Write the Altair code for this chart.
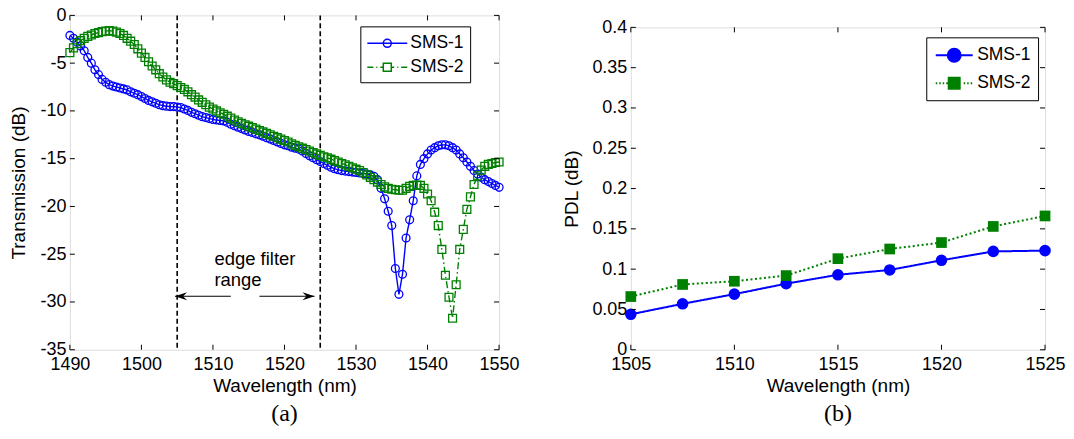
import altair as alt
import pandas as pd

# ---------------- data ----------------
series_names = ["SMS-1", "SMS-2"]
series_colors = ["#0000ff", "#008000"]

# panel (a): transmission spectra, sampled every 0.5 nm from 1490 to 1550 nm
wavelength_a = [1490 + 0.5 * i for i in range(121)]
sms1_trans = [
    -2.1, -2.4, -2.8, -3.2, -3.7, -4.4, -5.0, -5.7, -6.2, -6.7,
    -7.0, -7.25, -7.4, -7.5, -7.6, -7.7, -7.8, -8.0, -8.15, -8.3,
    -8.5, -8.7, -8.9, -9.05, -9.2, -9.35, -9.45, -9.5, -9.55, -9.55,
    -9.6, -9.65, -9.8, -9.95, -10.15, -10.3, -10.45, -10.6, -10.7, -10.8,
    -10.9, -10.95, -11.0, -11.05, -11.2, -11.4, -11.55, -11.7, -11.85, -12.0,
    -12.15, -12.25, -12.4, -12.5, -12.65, -12.8, -12.95, -13.1, -13.25, -13.4,
    -13.55, -13.65, -13.8, -13.9, -14.0, -14.2, -14.45, -14.7, -14.9, -15.1,
    -15.3, -15.5, -15.7, -15.9, -16.05, -16.15, -16.25, -16.3, -16.35, -16.4,
    -16.45, -16.5, -16.55, -16.6, -16.7, -16.85, -17.2, -18.1, -19.2, -20.5,
    -22.0, -26.5, -29.2, -27.1, -23.3, -21.4, -19.4, -16.8, -15.6, -15.0,
    -14.5, -14.1, -13.85, -13.65, -13.55, -13.55, -13.65, -13.85, -14.1, -14.5,
    -14.9, -15.35, -15.8, -16.25, -16.6, -16.95, -17.2, -17.4, -17.6, -17.8,
    -18.0,
]
sms2_trans = [
    -3.9, -3.4, -2.95, -2.65, -2.4, -2.2, -2.05, -1.9, -1.8, -1.7,
    -1.65, -1.6, -1.65, -1.75, -1.9, -2.1, -2.4, -2.7, -3.05, -3.5,
    -3.95, -4.4, -4.85, -5.3, -5.7, -6.1, -6.45, -6.75, -7.0, -7.15,
    -7.35, -7.55, -7.75, -8.0, -8.3, -8.55, -8.85, -9.1, -9.35, -9.6,
    -9.8, -10.0, -10.2, -10.35, -10.55, -10.75, -10.95, -11.15, -11.3, -11.45,
    -11.6, -11.75, -11.9, -12.05, -12.2, -12.35, -12.5, -12.65, -12.8, -12.95,
    -13.1, -13.25, -13.45, -13.6, -13.75, -13.9, -14.05, -14.2, -14.35, -14.5,
    -14.65, -14.8, -14.9, -15.05, -15.2, -15.35, -15.5, -15.65, -15.8, -15.95,
    -16.1, -16.25, -16.45, -16.7, -16.95, -17.2, -17.45, -17.7, -17.95, -18.1,
    -18.2, -18.25, -18.3, -18.3, -18.1, -17.9, -17.8, -17.75, -17.8, -18.1,
    -18.7, -19.4, -20.6, -22.0, -24.5, -27.2, -29.5, -31.7, -28.2, -24.5,
    -22.4, -20.3, -19.0, -17.7, -16.8, -16.2, -15.8, -15.6, -15.5, -15.4,
    -15.35,
]

# panel (b): PDL
wavelength_b = [1505, 1507.5, 1510, 1512.5, 1515, 1517.5, 1520, 1522.5, 1525]
sms1_pdl = [0.044, 0.057, 0.069, 0.082, 0.093, 0.099, 0.111, 0.122, 0.123]
sms2_pdl = [0.066, 0.081, 0.085, 0.092, 0.113, 0.125, 0.133, 0.153, 0.166]

# ticks
xticks_a = [1490, 1500, 1510, 1520, 1530, 1540, 1550]
yticks_a = [0, -5, -10, -15, -20, -25, -30, -35]
xticks_b = [1505, 1510, 1515, 1520, 1525]
yticks_b = [0, 0.05, 0.1, 0.15, 0.2, 0.25, 0.3, 0.35, 0.4]

# annotation of panel (a)
edge_lines = [1505, 1525]
annot_text = ["edge filter", "range"]
annot_y = [-25.5, -27.7]
annot_x = [1510.2, 1510.2]
arrow_left = [1512.5, 1504.7]
arrow_right = [1516.5, 1524.2]
arrow_y = -29.4

captions = ["(a)", "(b)"]
xtitle = "Wavelength (nm)"
ytitle_a = "Transmission (dB)"
ytitle_b = "PDL (dB)"

# ---------------- style ----------------
FONT = "Liberation Sans"
SERIF = "Liberation Serif"
W_A, H_A = 430, 335
W_B, H_B = 415, 323
TICK_FS = 18
TITLE_FS = 19
LEG_FS = 17.5

df_a = pd.DataFrame({
    "wl": wavelength_a * 2,
    "val": sms1_trans + sms2_trans,
    "series": [series_names[0]] * len(wavelength_a) + [series_names[1]] * len(wavelength_a),
})
df_b = pd.DataFrame({
    "wl": wavelength_b * 2,
    "val": sms1_pdl + sms2_pdl,
    "series": [series_names[0]] * len(wavelength_b) + [series_names[1]] * len(wavelength_b),
})


def make_axis(values, title, title_pad, label_pad):
    return alt.Axis(values=values, title=title, labelExpr="'' + datum.value",
                    labelFont=FONT, labelFontSize=TICK_FS, labelColor="black",
                    titleFont=FONT, titleFontSize=TITLE_FS, titleFontWeight="normal",
                    titleColor="black", titlePadding=title_pad, labelPadding=label_pad,
                    ticks=False, domain=False, grid=False, labelFlush=False,
                    labelOverlap=False)


sx_a = alt.Scale(domain=[1490, 1550], nice=False, zero=False)
sy_a = alt.Scale(domain=[-35, 0], nice=False, zero=False)
sx_b = alt.Scale(domain=[1505, 1525], nice=False, zero=False)
sy_b = alt.Scale(domain=[0, 0.4], nice=False, zero=False)
ax_xa = make_axis(xticks_a, xtitle, 3, 6)
ax_ya = make_axis(yticks_a, ytitle_a, 11, 4)
ax_xb = make_axis(xticks_b, xtitle, 3, 6)
ax_yb = make_axis(yticks_b, ytitle_b, 10, 4)


def X(field, sc, ax):
    return alt.X(field, type="quantitative", scale=sc, axis=ax)


def Y(field, sc, ax):
    return alt.Y(field, type="quantitative", scale=sc, axis=ax)


def tick_layers(xt, yt, sx, sy, axx, axy, w, h):
    tx = alt.Chart(pd.DataFrame({"v": xt}))
    ty = alt.Chart(pd.DataFrame({"v": yt}))
    r = dict(color="black", strokeWidth=1)
    return [
        tx.mark_rule(**r).encode(x=X("v", sx, axx), y=alt.value(h), y2=alt.value(h - 5)),
        tx.mark_rule(**r).encode(x=X("v", sx, axx), y=alt.value(0), y2=alt.value(5)),
        ty.mark_rule(**r).encode(y=Y("v", sy, axy), x=alt.value(0), x2=alt.value(5)),
        ty.mark_rule(**r).encode(y=Y("v", sy, axy), x=alt.value(w - 5), x2=alt.value(w)),
    ]


def seg_path(segs):
    return "".join(f"M{a:.3f},0L{b:.3f},0" for a, b in segs)


def circle_path(cx, r):
    return f"M{cx + r},0A{r},{r},0,1,1,{cx - r},0A{r},{r},0,1,1,{cx + r},0Z"


def square_path(cx, s):
    return f"M{cx - s},{-s}L{cx + s},{-s}L{cx + s},{s}L{cx - s},{s}Z"


# legend symbols (line + marker); symbol size 400 -> 1 unit = 10 px,
# the line runs from -1 to 3 units (40 px) with the marker at its middle
leg_paths_a = [
    seg_path([(-1, 3)]) + circle_path(1, 0.4),
    seg_path([(-1, -0.4), (-0.1, 0.0), (0.3, 0.6), (1.4, 1.7), (2.0, 2.1), (2.4, 3.0)]) + square_path(1, 0.4),
]
dots = []
p = -0.85
while p < 2.8:
    a, b = p, p + 0.15
    if not (0.35 < a < 1.65 or 0.35 < b < 1.65):
        dots.append((a, b))
    p += 0.35
leg_paths_b = [
    seg_path([(-0.85, 2.85)]) + circle_path(1, 0.65),
    seg_path(dots) + square_path(1, 0.55),
]


def legend(x, y, pad, row_pad, sw):
    return alt.Legend(title=None, orient="none", legendX=x, legendY=y,
                      labelFont=FONT, labelFontSize=LEG_FS, labelColor="black",
                      fillColor="white", strokeColor="black", padding=pad,
                      symbolSize=400, symbolStrokeWidth=sw, labelOffset=22,
                      rowPadding=row_pad, labelLimit=200)


# ---------------- panel (a) ----------------
layers_a = []
layers_a.append(
    alt.Chart(pd.DataFrame({"v": edge_lines})).mark_rule(
        color="black", strokeWidth=1.6, strokeDash=[5, 3]
    ).encode(x=X("v", sx_a, ax_xa))
)
dash_a = [[1, 0], [7, 3, 1.5, 3]]
shape_a = ["circle", "square"]
for i, name in enumerate(series_names):
    base = alt.Chart(df_a).transform_filter(alt.datum.series == name)
    layers_a.append(base.mark_line(color=series_colors[i], strokeWidth=1.4,
                                   strokeDash=dash_a[i]).encode(
        x=X("wl", sx_a, ax_xa), y=Y("val", sy_a, ax_ya)))
    layers_a.append(base.mark_point(color=series_colors[i], shape=shape_a[i], filled=False,
                                    size=62, strokeWidth=1.3, opacity=1).encode(
        x=X("wl", sx_a, ax_xa), y=Y("val", sy_a, ax_ya)))

leg_a = legend(291, 11, 6, 4, 1.5)
layers_a.append(
    alt.Chart(pd.DataFrame({"series": series_names})).transform_filter("false")
    .mark_point(filled=False, opacity=1).encode(
        stroke=alt.Stroke("series:N", scale=alt.Scale(domain=series_names, range=series_colors), legend=leg_a),
        shape=alt.Shape("series:N", scale=alt.Scale(domain=series_names, range=leg_paths_a), legend=leg_a),
    )
)
layers_a.append(
    alt.Chart(pd.DataFrame({"x": annot_x, "y": annot_y, "t": annot_text})).mark_text(
        align="left", baseline="middle", font=FONT, fontSize=18.5, color="black"
    ).encode(x=X("x", sx_a, ax_xa), y=Y("y", sy_a, ax_ya), text="t:N")
)
arr_df = pd.DataFrame({
    "x1": [arrow_left[0], arrow_right[0]],
    "x2": [arrow_left[1], arrow_right[1]],
    "y": [arrow_y, arrow_y],
})
layers_a.append(
    alt.Chart(arr_df).mark_rule(color="black", strokeWidth=1.2).encode(
        x=X("x1", sx_a, ax_xa), x2="x2:Q", y=Y("y", sy_a, ax_ya))
)
heads = [
    "M0,0L2,-0.65L1.35,0L2,0.65Z",
    "M0,0L-2,-0.65L-1.35,0L-2,0.65Z",
]
for k in range(2):
    layers_a.append(
        alt.Chart(arr_df.iloc[[k]]).mark_point(shape=heads[k], filled=True, color="black",
                                               size=144, opacity=1).encode(
            x=X("x2", sx_a, ax_xa), y=Y("y", sy_a, ax_ya))
    )
layers_a += tick_layers(xticks_a, yticks_a, sx_a, sy_a, ax_xa, ax_ya, W_A, H_A)

panel_a = alt.layer(*layers_a).properties(
    width=W_A, height=H_A,
    title=alt.TitleParams(captions[0], orient="bottom", font=SERIF, fontSize=24,
                          fontWeight="normal", color="black", offset=6),
)

# ---------------- panel (b) ----------------
layers_b = []
dash_b = [[1, 0], [2, 2.5]]
shape_b = ["circle", "square"]
size_b = [135, 115]
for i, name in enumerate(series_names):
    base = alt.Chart(df_b).transform_filter(alt.datum.series == name)
    layers_b.append(base.mark_line(color=series_colors[i], strokeWidth=2,
                                   strokeDash=dash_b[i]).encode(
        x=X("wl", sx_b, ax_xb), y=Y("val", sy_b, ax_yb)))
    layers_b.append(base.mark_point(color=series_colors[i], shape=shape_b[i], filled=True,
                                    size=size_b[i], opacity=1).encode(
        x=X("wl", sx_b, ax_xb), y=Y("val", sy_b, ax_yb)))

leg_b = legend(296, 22, 7, 6, 2)
layers_b.append(
    alt.Chart(pd.DataFrame({"series": series_names})).transform_filter("false")
    .mark_point(filled=True, opacity=1).encode(
        fill=alt.Fill("series:N", scale=alt.Scale(domain=series_names, range=series_colors), legend=leg_b),
        stroke=alt.Stroke("series:N", scale=alt.Scale(domain=series_names, range=series_colors), legend=leg_b),
        shape=alt.Shape("series:N", scale=alt.Scale(domain=series_names, range=leg_paths_b), legend=leg_b),
    )
)
layers_b += tick_layers(xticks_b, yticks_b, sx_b, sy_b, ax_xb, ax_yb, W_B, H_B)

panel_b = alt.layer(*layers_b).properties(
    width=W_B, height=H_B,
    title=alt.TitleParams(captions[1], orient="bottom", font=SERIF, fontSize=24,
                          fontWeight="normal", color="black", offset=6),
)

# an empty, invisible strip above panel (b): its plot sits a little lower than panel (a)'s
spacer = alt.Chart(pd.DataFrame({"s": [0.0]})).transform_filter("false").mark_point().encode(
    x=alt.X("s:Q", axis=None), y=alt.Y("s:Q", axis=None)
).properties(width=W_B, height=2, view=alt.ViewBackground(stroke=None))
col_b = alt.vconcat(spacer, panel_b, spacing=0)

chart = alt.hconcat(panel_a, col_b, spacing=42).resolve_scale(
    stroke="independent", fill="independent", shape="independent"
).resolve_legend(
    stroke="independent", fill="independent", shape="independent"
).properties(
    padding={"left": 1, "top": -3, "right": 0, "bottom": 0},
    background="white",
).configure_view(stroke="black", strokeWidth=1).configure(font=FONT)

chart.save("out.html", embed_options={"renderer": "svg", "actions": False})
